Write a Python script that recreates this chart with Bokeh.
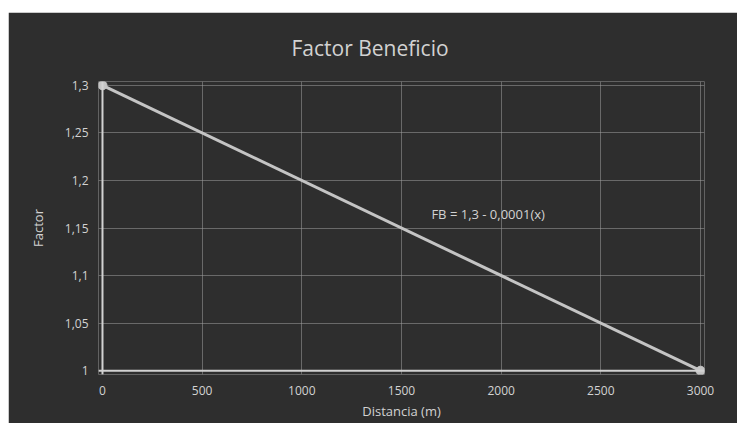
from bokeh.plotting import figure
from bokeh.layouts import row, column
from bokeh.models import Range1d, FixedTicker, CustomJSTickFormatter, Span, Label, Title, Spacer
from bokeh.embed import file_html
from bokeh.resources import INLINE

# Data
distancia = [0, 3000]
factor = [1.3, 1.0]
x_ticks = [0, 500, 1000, 1500, 2000, 2500, 3000]
y_ticks = [1.0, 1.05, 1.1, 1.15, 1.2, 1.25, 1.3]
title_text = "Factor Beneficio"
x_label = "Distancia (m)"
y_label = "Factor"
equation = "FB = 1,3 - 0,0001(x)"

BG = "#2e2e2e"
FG = "#d2d2d2"
FONT = "Open Sans"

p = figure(width=729, height=411, output_backend="svg", toolbar_location=None,
           x_range=Range1d(-20, 3020), y_range=Range1d(0.996, 1.304),
           background_fill_color=BG, border_fill_color=BG, outline_line_color=None,
           min_border_left=90, min_border_right=33, min_border_top=68, min_border_bottom=49)
p.title = None

t = Title(text=title_text, align="left", text_color=FG, text_font=FONT,
          text_font_size="21px", text_font_style="normal", standoff=39, offset=193)
p.add_layout(t, "above")

fmt = CustomJSTickFormatter(code="return String(Math.round(tick*100)/100).replace('.', ',');")

for ax in p.xaxis:
    ax.ticker = FixedTicker(ticks=x_ticks)
for ax in p.yaxis:
    ax.ticker = FixedTicker(ticks=y_ticks)
    ax.formatter = fmt

for ax in list(p.xaxis) + list(p.yaxis):
    ax.axis_line_color = None
    ax.major_tick_line_color = None
    ax.minor_tick_line_color = None
    ax.major_tick_out = 0
    ax.major_tick_in = 0
    ax.minor_tick_out = 0
    ax.minor_tick_in = 0
    ax.major_label_text_color = FG
    ax.major_label_text_font = FONT
    ax.major_label_text_font_size = "12px"
    ax.axis_label_text_color = FG
    ax.axis_label_text_font = FONT
    ax.axis_label_text_font_size = "13px"
    ax.axis_label_text_font_style = "normal"

p.xaxis.axis_label = x_label
p.yaxis.axis_label = y_label
p.xaxis.major_label_standoff = 11
p.xaxis.axis_label_standoff = 4
p.yaxis.major_label_standoff = 10
p.yaxis.axis_label_standoff = 15

p.xgrid.ticker = FixedTicker(ticks=x_ticks)
p.ygrid.ticker = FixedTicker(ticks=y_ticks)
p.grid.grid_line_color = "#9a9a9a"
p.grid.grid_line_alpha = 0.55
p.grid.grid_line_width = 1

p.add_layout(Span(location=0, dimension="height", line_color=FG, line_width=2))
p.add_layout(Span(location=1.0, dimension="width", line_color=FG, line_width=2))

p.line(distancia, factor, line_color="#c4c4c4", line_width=3)
p.scatter(distancia, factor, size=9, fill_color="#c4c4c4", line_color="#c4c4c4")

p.add_layout(Label(x=1650, y=1.165, text=equation, text_color=FG, text_font=FONT,
                   text_font_size="13px", text_baseline="middle", text_align="left"))

layout = row(Spacer(width=8), column(Spacer(height=12), p))

open("out.html", "w").write(file_html(layout, INLINE))
